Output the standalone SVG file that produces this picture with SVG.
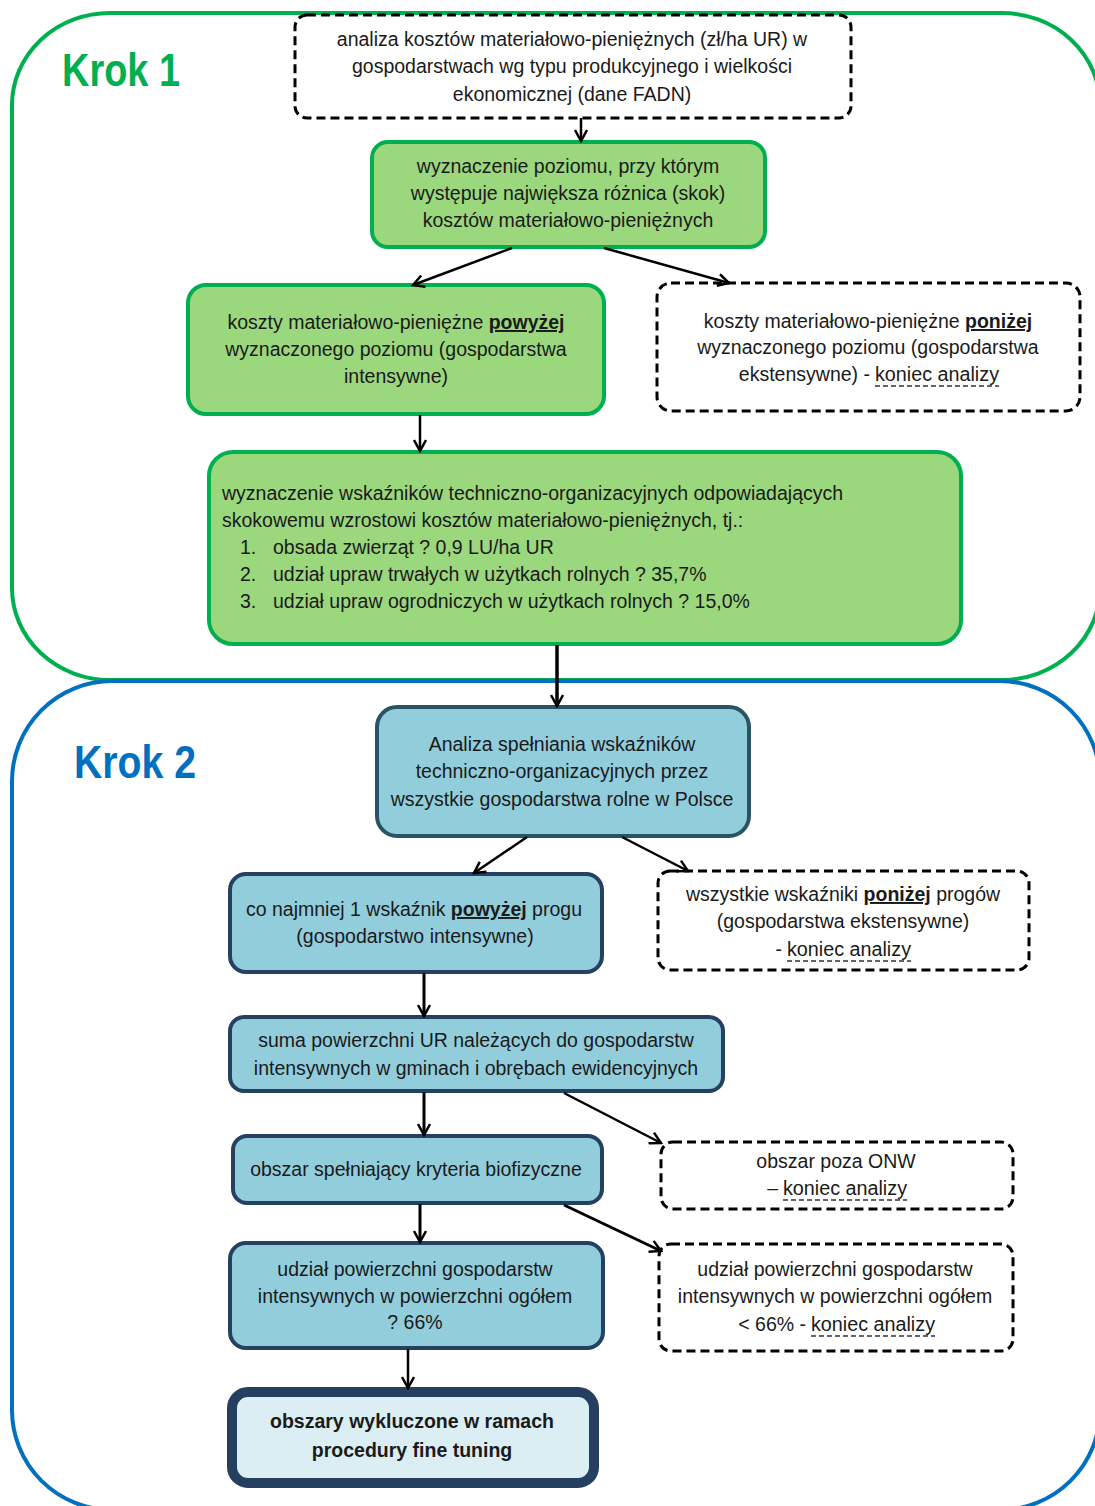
<svg xmlns="http://www.w3.org/2000/svg" width="1095" height="1506" viewBox="0 0 1095 1506">
<defs>
<marker id="arr" viewBox="0 0 14 14" markerWidth="14" markerHeight="14" refX="12" refY="7" orient="auto" markerUnits="userSpaceOnUse">
<path d="M1,1 L12,7 L1,13" fill="none" stroke="#000" stroke-width="2.5"/>
</marker>
<style>
text{font-family:"Liberation Sans",Arial,sans-serif;font-size:19.5px;fill:#1a1a1a}
.c{text-anchor:middle}
.e{text-anchor:end}
.b{font-weight:bold}
.u{font-weight:bold;text-decoration:underline}
.green{fill:#9BD77D;stroke:#00B050;stroke-width:4}
.blue{fill:#92CDDC;stroke:#254061;stroke-width:4}
.dash{fill:#fff;stroke:#000;stroke-width:3;stroke-dasharray:9 5}
.ul{stroke:#333;stroke-width:1.3;stroke-dasharray:5 3}
.con{stroke:#000;stroke-width:2.5;fill:none;marker-end:url(#arr)}
</style>
</defs>
<rect width="1095" height="1506" fill="#fff"/>

<g id="frame-krok1">
<rect x="12" y="13" width="1088" height="667" rx="98" ry="92" fill="none" stroke="#00B050" stroke-width="4"/>
<text x="62" y="86" class="b" style="font-size:46px;fill:#00B050" textLength="118" lengthAdjust="spacingAndGlyphs">Krok 1</text>
</g>
<g id="frame-krok2">
<rect x="12" y="681" width="1088" height="829" rx="100" ry="100" fill="none" stroke="#0070C0" stroke-width="4"/>
<text x="74" y="778" class="b" style="font-size:46px;fill:#0070C0" textLength="122" lengthAdjust="spacingAndGlyphs">Krok 2</text>
</g>

<g id="n1">
<rect x="295" y="15" width="556" height="103" rx="12" class="dash"/>
<text x="572" y="46" class="c">analiza kosztów materiałowo-pieniężnych (zł/ha UR) w</text>
<text x="572" y="73" class="c">gospodarstwach wg typu produkcyjnego i wielkości</text>
<text x="572" y="101" class="c">ekonomicznej (dane FADN)</text>
</g>

<g id="n2">
<rect x="372" y="142" width="393" height="105" rx="16" class="green"/>
<text x="568" y="173" class="c">wyznaczenie poziomu, przy którym</text>
<text x="568" y="200" class="c">występuje największa różnica (skok)</text>
<text x="568" y="227" class="c">kosztów materiałowo-pieniężnych</text>
</g>

<g id="n3">
<rect x="188" y="285" width="416" height="129" rx="18" class="green"/>
<text x="396" y="329" class="c">koszty materiałowo-pieniężne <tspan class="u">powyżej</tspan></text>
<text x="396" y="356" class="c">wyznaczonego poziomu (gospodarstwa</text>
<text x="396" y="383" class="c">intensywne)</text>
</g>

<g id="n4">
<rect x="657" y="283" width="423" height="128" rx="14" class="dash"/>
<text x="868" y="328" class="c">koszty materiałowo-pieniężne <tspan class="u">poniżej</tspan></text>
<text x="868" y="354" class="c">wyznaczonego poziomu (gospodarstwa</text>
<text x="870" y="381" class="e">ekstensywne) -</text>
<text x="875" y="381" textLength="124" lengthAdjust="spacingAndGlyphs">koniec analizy</text>
<line x1="875" y1="386" x2="999" y2="386" class="ul"/>
</g>

<g id="n5">
<rect x="209" y="452" width="752" height="192" rx="24" class="green"/>
<text x="222" y="500">wyznaczenie wskaźników techniczno-organizacyjnych odpowiadających</text>
<text x="222" y="527">skokowemu wzrostowi kosztów materiałowo-pieniężnych, tj.:</text>
<text x="240" y="554">1.</text><text x="273" y="554">obsada zwierząt ? 0,9 LU/ha UR</text>
<text x="240" y="581">2.</text><text x="273" y="581">udział upraw trwałych w użytkach rolnych ? 35,7%</text>
<text x="240" y="608">3.</text><text x="273" y="608">udział upraw ogrodniczych w użytkach rolnych ? 15,0%</text>
</g>

<g id="n6">
<rect x="377" y="707" width="372" height="129" rx="20" class="blue" style="stroke:#2A5466"/>
<text x="562" y="751" class="c">Analiza spełniania wskaźników</text>
<text x="562" y="778" class="c">techniczno-organizacyjnych przez</text>
<text x="562" y="806" class="c">wszystkie gospodarstwa rolne w Polsce</text>
</g>

<g id="n7">
<rect x="230" y="874" width="372" height="98" rx="16" class="blue"/>
<text x="414" y="916" class="c">co najmniej 1 wskaźnik <tspan class="u">powyżej</tspan> progu</text>
<text x="415" y="943" class="c">(gospodarstwo intensywne)</text>
</g>

<g id="n8">
<rect x="658" y="871" width="371" height="99" rx="12" class="dash"/>
<text x="843" y="901" class="c">wszystkie wskaźniki <tspan class="u">poniżej</tspan> progów</text>
<text x="843" y="928" class="c">(gospodarstwa ekstensywne)</text>
<text x="782" y="956" class="e">-</text>
<text x="787" y="956" textLength="124" lengthAdjust="spacingAndGlyphs">koniec analizy</text>
<line x1="787" y1="961" x2="911" y2="961" class="ul"/>
</g>

<g id="n9">
<rect x="230" y="1017" width="493" height="74" rx="14" class="blue"/>
<text x="476" y="1047" class="c">suma powierzchni UR należących do gospodarstw</text>
<text x="476" y="1075" class="c">intensywnych w gminach i obrębach ewidencyjnych</text>
</g>

<g id="n10">
<rect x="233" y="1136" width="369" height="67" rx="14" class="blue"/>
<text x="416" y="1176" class="c">obszar spełniający kryteria biofizyczne</text>
</g>

<g id="n11">
<rect x="661" y="1142" width="352" height="67" rx="12" class="dash"/>
<text x="836" y="1168" class="c">obszar poza ONW</text>
<text x="778" y="1195" class="e">–</text>
<text x="783" y="1195" textLength="124" lengthAdjust="spacingAndGlyphs">koniec analizy</text>
<line x1="783" y1="1200" x2="907" y2="1200" class="ul"/>
</g>

<g id="n12">
<rect x="230" y="1243" width="373" height="105" rx="16" class="blue"/>
<text x="415" y="1276" class="c">udział powierzchni gospodarstw</text>
<text x="415" y="1303" class="c">intensywnych w powierzchni ogółem</text>
<text x="415" y="1329" class="c">? 66%</text>
</g>

<g id="n13">
<rect x="659" y="1244" width="354" height="107" rx="12" class="dash"/>
<text x="835" y="1276" class="c">udział powierzchni gospodarstw</text>
<text x="835" y="1303" class="c">intensywnych w powierzchni ogółem</text>
<text x="806" y="1331" class="e">&lt; 66% -</text>
<text x="811" y="1331" textLength="124" lengthAdjust="spacingAndGlyphs">koniec analizy</text>
<line x1="811" y1="1336" x2="935" y2="1336" class="ul"/>
</g>

<g id="n14">
<rect x="232" y="1392" width="362" height="91" rx="16" fill="#DBEEF4" stroke="#243F60" stroke-width="10"/>
<text x="412" y="1428" class="c b">obszary wykluczone w ramach</text>
<text x="412" y="1457" class="c b">procedury fine tuning</text>
</g>

<g id="connectors">
<line x1="581" y1="118" x2="581" y2="141" class="con"/>
<line x1="512" y1="248" x2="413" y2="285" class="con"/>
<line x1="604" y1="248" x2="729" y2="283" class="con"/>
<line x1="420" y1="415" x2="420" y2="451" class="con"/>
<line x1="557" y1="645" x2="557" y2="706" class="con" style="stroke-width:3.5"/>
<line x1="527" y1="837" x2="474" y2="873" class="con"/>
<line x1="622" y1="837" x2="688" y2="871" class="con"/>
<line x1="424" y1="973" x2="424" y2="1016" class="con" style="stroke-width:3"/>
<line x1="424" y1="1092" x2="424" y2="1135" class="con" style="stroke-width:3"/>
<line x1="564" y1="1093" x2="661" y2="1143" class="con"/>
<line x1="420" y1="1204" x2="420" y2="1242" class="con" style="stroke-width:3"/>
<line x1="564" y1="1205" x2="661" y2="1251" class="con" style="stroke-width:3"/>
<line x1="408" y1="1349" x2="408" y2="1388" class="con"/>
</g>
</svg>
